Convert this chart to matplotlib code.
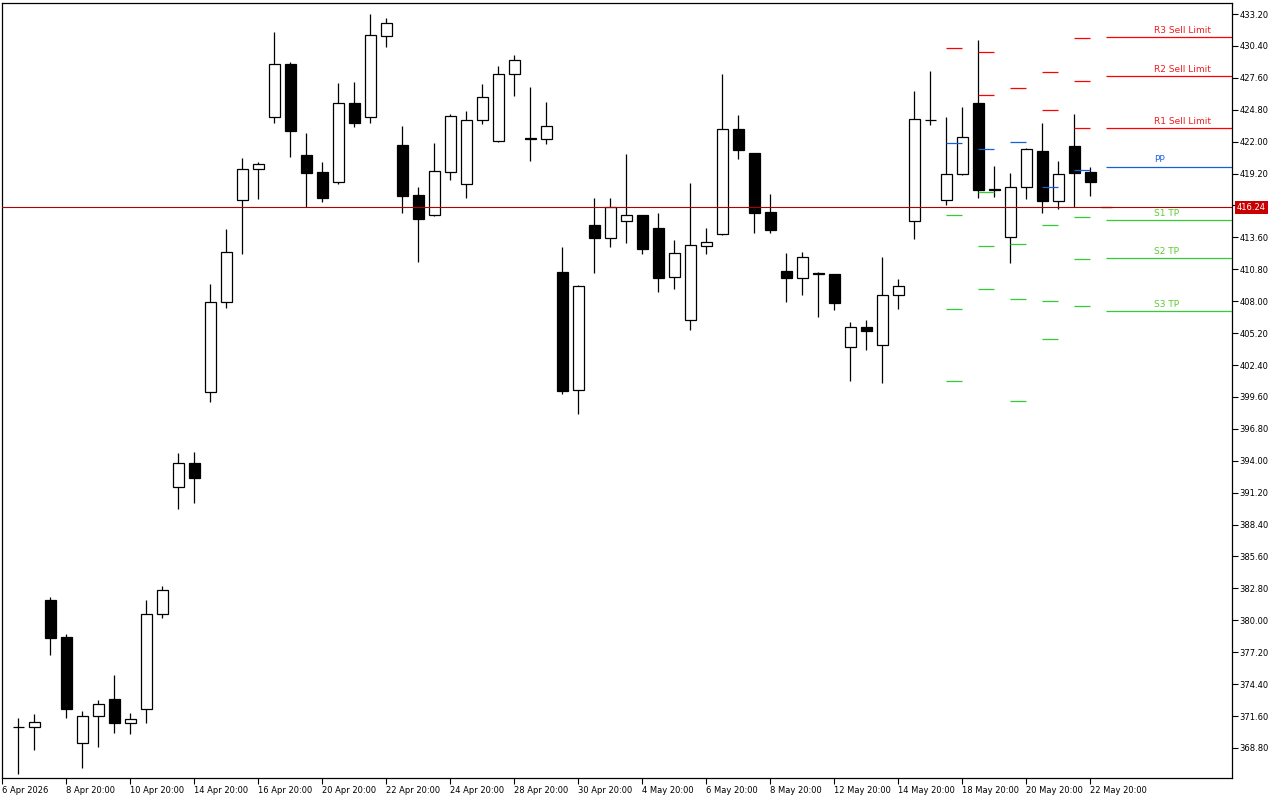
import matplotlib
matplotlib.use("Agg")
import matplotlib.pyplot as plt

plt.rcParams['font.family'] = ['DejaVu Sans']

# candle data (12h bars), index 0..68
opens = [370.61, 370.61, 381.78, 378.53, 369.20, 371.57, 373.09, 371.01, 372.24, 380.55,
         391.72, 393.77, 400.00, 407.90, 416.85, 419.57, 424.14, 428.81, 420.80, 419.31,
         418.48, 425.36, 424.19, 431.24, 421.68, 417.29, 415.59, 419.36, 418.26, 423.87,
         422.03, 427.91, 422.32, 422.20, 410.53, 400.17, 414.66, 413.52, 415.01, 415.56,
         414.39, 410.15, 406.32, 412.87, 413.87, 423.08, 421.00, 415.83, 410.65, 410.06,
         410.47, 410.38, 403.95, 405.73, 404.13, 408.52, 415.04, 423.90, 416.85, 419.13,
         425.39, 417.85, 413.60, 417.99, 421.18, 416.76, 421.62, 419.31, 416.24]
highs = [371.40, 371.77, 382.04, 378.79, 372.04, 373.00, 375.20, 371.86, 381.78, 383.00,
         394.65, 394.74, 409.51, 414.33, 420.56, 420.19, 431.62, 428.99, 422.76, 420.19,
         427.15, 427.23, 433.20, 432.85, 423.37, 418.02, 421.85, 424.42, 424.69, 427.06,
         428.64, 429.60, 426.79, 425.48, 412.75, 409.42, 417.05, 417.05, 420.91, 415.60,
         415.74, 413.37, 418.34, 414.39, 427.93, 424.34, 421.05, 417.40, 412.23, 412.32,
         410.53, 410.42, 406.15, 406.35, 411.88, 409.95, 426.47, 428.22, 424.16, 425.07,
         430.94, 419.86, 419.25, 421.47, 423.66, 420.30, 424.42, 419.77, 416.24]
lows = [366.54, 368.62, 376.95, 371.45, 367.06, 368.91, 370.13, 370.05, 371.01, 380.23,
        389.79, 390.32, 399.18, 407.43, 412.17, 416.97, 423.66, 420.68, 416.26, 416.73,
        418.26, 423.31, 423.66, 430.33, 415.76, 411.46, 415.50, 418.63, 417.08, 423.57,
        421.95, 426.03, 420.33, 421.82, 399.83, 398.07, 410.50, 412.78, 413.08, 412.11,
        408.83, 409.04, 405.50, 412.17, 413.80, 420.50, 414.01, 414.01, 407.93, 408.54,
        406.64, 407.25, 401.02, 403.74, 400.85, 407.34, 413.48, 423.49, 416.47, 419.05,
        417.08, 417.17, 411.32, 416.94, 415.71, 416.06, 416.29, 417.26, 416.24]
closes = [370.61, 371.05, 378.47, 372.24, 371.60, 372.63, 371.01, 371.34, 380.55, 382.63,
          393.77, 392.51, 407.90, 412.29, 419.57, 420.01, 428.79, 422.96, 419.27, 417.08,
          425.36, 423.66, 431.33, 432.38, 417.26, 415.24, 419.40, 424.22, 423.90, 425.89,
          427.91, 429.14, 422.20, 423.35, 400.14, 409.31, 413.57, 416.24, 415.54, 412.61,
          410.06, 412.20, 412.90, 413.17, 423.08, 421.29, 415.76, 414.25, 410.06, 411.85,
          410.36, 407.87, 405.71, 405.41, 408.52, 409.31, 423.99, 423.90, 419.16, 422.41,
          417.78, 417.72, 417.99, 421.35, 416.82, 419.16, 419.27, 418.48, 416.24]

bid = 416.24

# date labels every 4 bars
date_pos = [-1, 3, 7, 11, 15, 19, 23, 27, 31, 35, 39, 43, 47, 51, 55, 59, 63, 67]
date_labels = ["6 Apr 2026", "8 Apr 20:00", "10 Apr 20:00", "14 Apr 20:00", "16 Apr 20:00",
               "20 Apr 20:00", "22 Apr 20:00", "24 Apr 20:00", "28 Apr 20:00", "30 Apr 20:00",
               "4 May 20:00", "6 May 20:00", "8 May 20:00", "12 May 20:00", "14 May 20:00",
               "18 May 20:00", "20 May 20:00", "22 May 20:00"]

# daily pivots of previous days (start bar, two bars long)
piv_start = [58, 60, 62, 64, 66]
pp_prev = [421.85, 421.33, 421.94, 418.00, 419.48]
res_prev = [[430.19], [426.07, 429.84], [426.68], [424.75, 428.08], [423.17, 427.29, 431.07]]
sup_prev = [[415.54, 407.29, 400.97], [417.55, 412.82, 409.04], [412.99, 408.17, 399.21],
            [414.66, 407.99, 404.66], [415.36, 411.67, 407.55]]

# current pivot levels
cur_names = ["R3 Sell Limit", "R2 Sell Limit", "R1 Sell Limit", "PP", "S1 TP", "S2 TP", "S3 TP"]
cur_levels = [431.16, 427.73, 423.17, 419.76, 415.10, 411.76, 407.11]

RED = '#ff0000'
BLUE = '#1560d8'
GREEN = '#33cc33'

fig = plt.figure(figsize=(12.8, 8), dpi=100)
ax = fig.add_axes([2 / 1280, 22 / 800, 1230 / 1280, 775 / 800])
ax.set_xlim(-1.02, 75.86)
ax.set_ylim(366.16, 434.17)

x = list(range(len(opens)))

# wicks then bodies
ax.vlines(x, lows, highs, color='black', linewidth=0.9, zorder=2)
fills = ['white' if c >= o else 'black' for o, c in zip(opens, closes)]
heights = [c - o for o, c in zip(opens, closes)]
ax.bar(x, heights, bottom=opens, width=0.66, color=fills, edgecolor='black',
       linewidth=0.9, zorder=3)

# previous pivots
for s, pp, rs, ss in zip(piv_start, pp_prev, res_prev, sup_prev):
    ax.hlines(rs, s, s + 1, color=RED, linewidth=0.9, zorder=4)
    ax.hlines(pp, s, s + 1, color=BLUE, linewidth=0.9, zorder=4)
    ax.hlines(ss, s, s + 1, color=GREEN, linewidth=0.9, zorder=4)

# current pivots with labels
for name, lv in zip(cur_names, cur_levels):
    if name.startswith('R'):
        col, tcol = RED, '#f01c1c'
    elif name == 'PP':
        col, tcol = BLUE, '#1e64e6'
    else:
        col, tcol = GREEN, '#5ccc30'
    ax.hlines(lv, 68, 75.86, color=col, linewidth=0.9, zorder=4)
    ax.annotate(name, xy=(71, lv), xytext=(0, 2), textcoords='offset points',
                ha='left', va='bottom', fontsize=6.5, color=tcol)

# bid line and price tag
ax.axhline(bid, color='#b00000', linewidth=0.8, zorder=5)
ax.annotate(f"{bid:.2f}", xy=(1.0, bid), xycoords=('axes fraction', 'data'),
            xytext=(5, 0), textcoords='offset pixels', ha='left', va='center',
            fontsize=6, color='white', zorder=6, annotation_clip=False,
            bbox=dict(boxstyle='square,pad=0.25', fc='#c80000', ec='none'))

# axes styling
for sp in ax.spines.values():
    sp.set_color('black')
    sp.set_linewidth(0.9)
yt = [433.2 - 2.8 * k for k in range(24)]
# the 416.40 label sits under the price tag
ylabels = ["" if abs(v - bid) < 1 else f"{v:.2f}" for v in yt]
ax.yaxis.tick_right()
ax.set_yticks(yt, ylabels)
ax.set_xticks(date_pos, date_labels)
for lab in ax.get_xticklabels():
    lab.set_ha('left')
ax.tick_params(axis='both', direction='out', length=4, width=0.8, labelsize=6,
               colors='black', pad=1.5)
ax.tick_params(axis='x', pad=2)

fig.savefig('out.png', dpi=100)
